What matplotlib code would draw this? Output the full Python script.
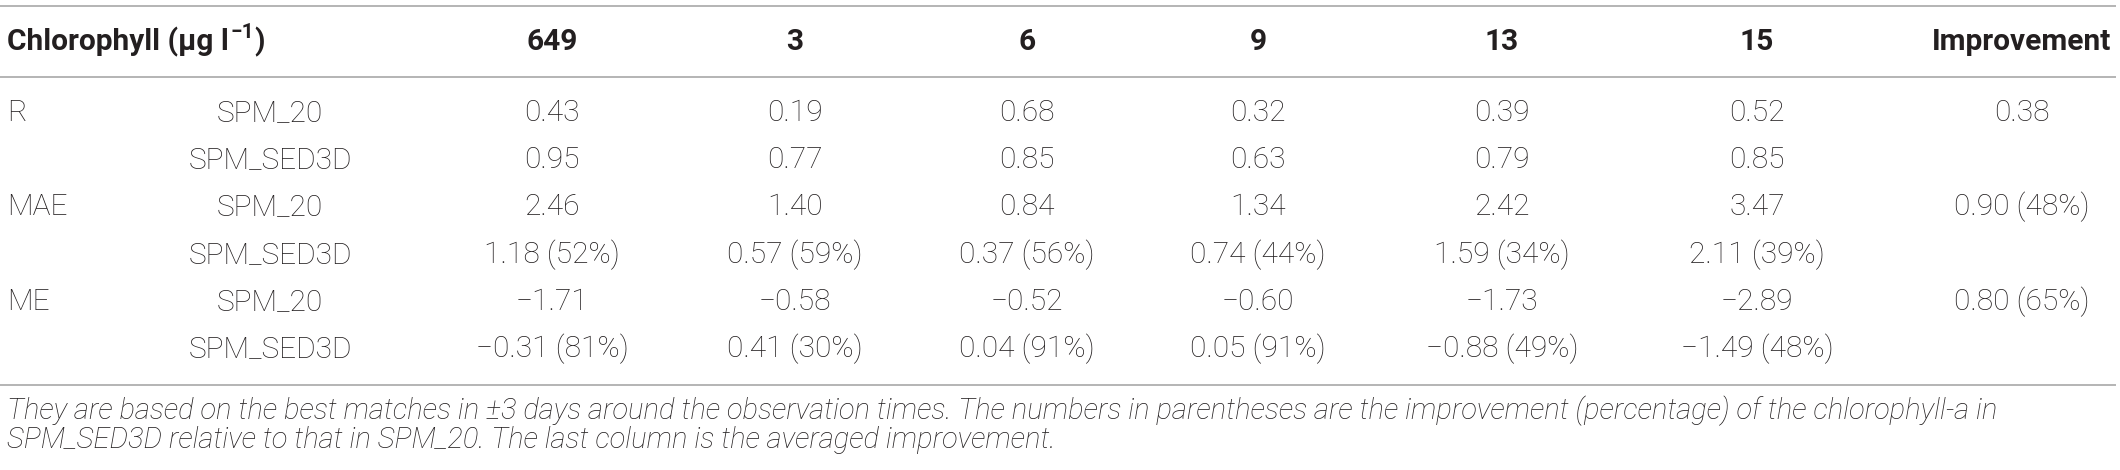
import matplotlib
matplotlib.use("Agg")
import matplotlib.pyplot as plt

# table contents
stations = ["649", "3", "6", "9", "13", "15"]
metrics = ["R", "MAE", "ME"]
models = ["SPM_20", "SPM_SED3D"]

r_spm20 = [0.43, 0.19, 0.68, 0.32, 0.39, 0.52]
r_sed3d = [0.95, 0.77, 0.85, 0.63, 0.79, 0.85]
mae_spm20 = [2.46, 1.40, 0.84, 1.34, 2.42, 3.47]
mae_sed3d = [1.18, 0.57, 0.37, 0.74, 1.59, 2.11]
mae_pct = [52, 59, 56, 44, 34, 39]
me_spm20 = [-1.71, -0.58, -0.52, -0.60, -1.73, -2.89]
me_sed3d = [-0.31, 0.41, 0.04, 0.05, -0.88, -1.49]
me_pct = [81, 30, 91, 91, 49, 48]
improvement = ["0.38", "0.90 (48%)", "0.80 (65%)"]

caption = ["They are based on the best matches in \u00b13 days around the observation times. "
           "The numbers in parentheses are the improvement (percentage) of the chlorophyll-a in",
           "SPM_SED3D relative to that in SPM_20. The last column is the averaged improvement."]

FAM = ["Roboto", "DejaVu Sans"]
TXT = "#231f20"
LINE = "#b4b4b4"
FS = 21.5


def fmt(v, pct=None):
    s = f"{v:.2f}".replace("-", "\u2212")
    if pct is not None:
        s += f" ({pct}%)"
    return s


fig = plt.figure(figsize=(21.2, 4.7), dpi=100)
ax = fig.add_axes([0, 0, 1, 1])
ax.set_xlim(0, 2120)
ax.set_ylim(470, 0)
ax.axis("off")

col_x = [552, 795, 1027, 1258, 1502, 1757]
imp_x = 2022
model_x = 270
row_y = [113, 160, 207, 255, 302, 349]

# rules
ax.hlines([6, 77, 385], 0, 2116, color=LINE, lw=1.4)

# header, superscript placed by hand after measuring the first part
hdr = ax.text(7, 42, "Chlorophyll (\u00b5g l", family=FAM, weight="bold",
              fontsize=FS, color=TXT, ha="left", va="center")
fig.canvas.draw()
bb = hdr.get_window_extent().transformed(ax.transData.inverted())
x_end = bb.x1
ax.text(x_end + 2, 33, "\u22121", family=FAM, weight="bold", fontsize=FS * 0.7,
        color=TXT, ha="left", va="center")
ax.text(x_end + 26, 42, ")", family=FAM, weight="bold", fontsize=FS,
        color=TXT, ha="left", va="center")

for x, s in zip(col_x, stations):
    ax.text(x, 42, s, family=FAM, weight="bold", fontsize=FS, color=TXT,
            ha="center", va="center")
ax.text(imp_x, 42, "Improvement", family=FAM, weight="bold", fontsize=FS,
        color=TXT, ha="center", va="center")

rows = [
    [fmt(v) for v in r_spm20],
    [fmt(v) for v in r_sed3d],
    [fmt(v) for v in mae_spm20],
    [fmt(v, p) for v, p in zip(mae_sed3d, mae_pct)],
    [fmt(v) for v in me_spm20],
    [fmt(v, p) for v, p in zip(me_sed3d, me_pct)],
]

for i, vals in enumerate(rows):
    y = row_y[i]
    if i % 2 == 0:
        ax.text(7, y, metrics[i // 2], family=FAM, weight="light", fontsize=FS,
                color=TXT, ha="left", va="center")
        ax.text(imp_x, y, improvement[i // 2], family=FAM, weight="light",
                fontsize=FS, color=TXT, ha="center", va="center")
    ax.text(model_x, y, models[i % 2], family=FAM, weight="light", fontsize=FS,
            color=TXT, ha="center", va="center")
    for x, s in zip(col_x, vals):
        ax.text(x, y, s, family=FAM, weight="light", fontsize=FS, color=TXT,
                ha="center", va="center")

# caption
for k, line in enumerate(caption):
    ax.text(7, 411 + 29 * k, line, family=FAM, weight="light", style="italic",
            fontsize=21, color=TXT, ha="left", va="center")

fig.savefig("out.png", dpi=100)
